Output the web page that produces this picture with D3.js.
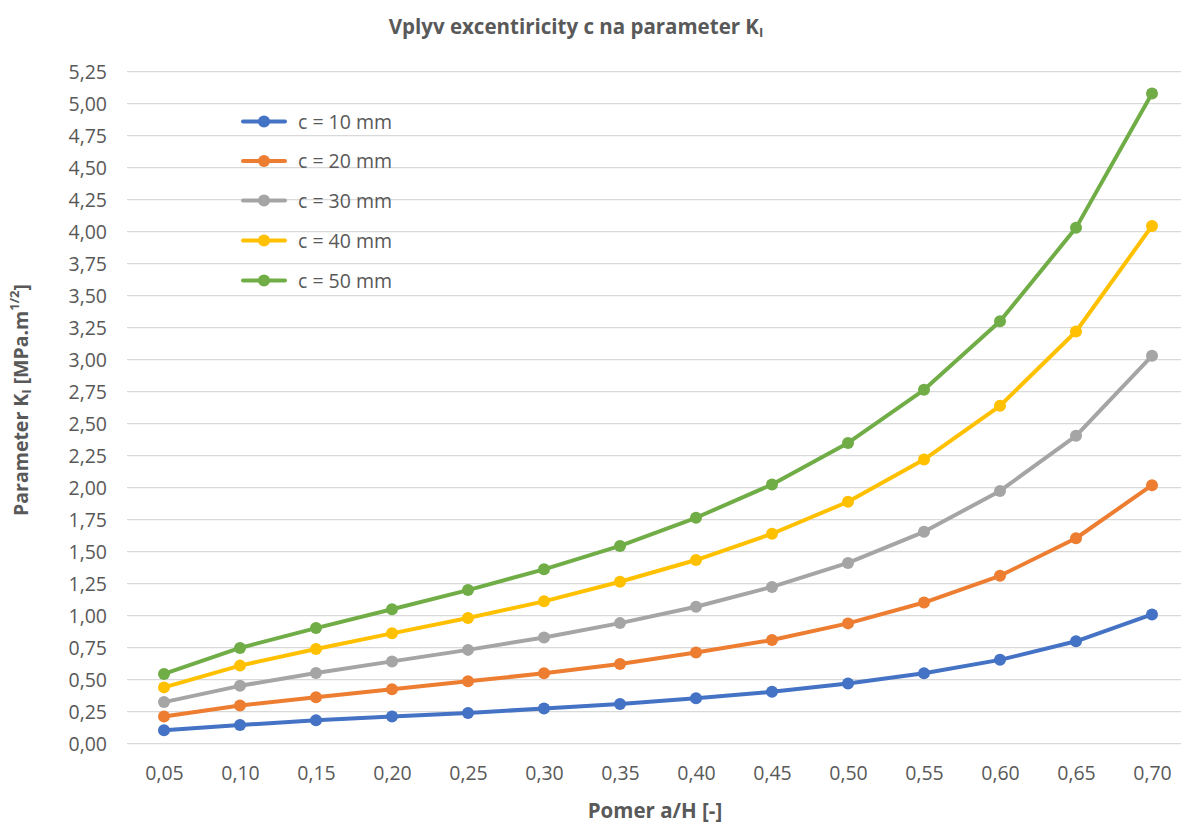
<!DOCTYPE html>
<html>
<head>
<meta charset="utf-8">
<script src="https://cdn.jsdelivr.net/npm/d3@7"></script>
<style>
  html, body { margin: 0; padding: 0; background: #fff; }
  svg { display: block; }
  text { font-family: "Open Sans", "Noto Sans", sans-serif; }
</style>
</head>
<body>
<svg id="chart" width="1181" height="825"></svg>
<script>
const categories = ["0,05","0,10","0,15","0,20","0,25","0,30","0,35","0,40","0,45","0,50","0,55","0,60","0,65","0,70"];
const seriesNames = ["c = 10 mm","c = 20 mm","c = 30 mm","c = 40 mm","c = 50 mm"];
const seriesColors = ["#4472C4","#ED7D31","#A5A5A5","#FFC000","#70AD47"];
const c10 = [0.105,0.146,0.183,0.213,0.240,0.275,0.310,0.355,0.405,0.470,0.550,0.655,0.800,1.010];
const c20 = [0.212,0.298,0.363,0.425,0.487,0.550,0.622,0.712,0.810,0.940,1.103,1.312,1.605,2.020];
const c30 = [0.325,0.452,0.552,0.643,0.733,0.830,0.942,1.070,1.225,1.412,1.655,1.975,2.405,3.030];
const c40 = [0.440,0.610,0.740,0.862,0.982,1.112,1.265,1.435,1.640,1.890,2.220,2.640,3.220,4.045];
const c50 = [0.545,0.748,0.903,1.050,1.200,1.362,1.545,1.765,2.025,2.350,2.765,3.300,4.030,5.080];
const seriesValues = [c10, c20, c30, c40, c50];
const yTicks = [0,0.25,0.5,0.75,1,1.25,1.5,1.75,2,2.25,2.5,2.75,3,3.25,3.5,3.75,4,4.25,4.5,4.75,5,5.25];

const svg = d3.select("#chart");
const textColor = "#595959";

const x = d3.scalePoint().domain(categories).range([126, 1190]).padding(0.5);
const y = d3.scaleLinear().domain([0, 5.25]).range([743.7, 71.7]);
const fmt = v => v.toFixed(2).replace(".", ",");

// gridlines
svg.append("g").selectAll("line").data(yTicks).join("line")
  .attr("x1", 127).attr("x2", 1190)
  .attr("y1", d => y(d)).attr("y2", d => y(d))
  .attr("stroke", "#d9d9d9").attr("stroke-width", 1.3);

// y axis labels
const yAxis = d3.axisLeft(y).tickValues(yTicks).tickFormat(fmt).tickSize(0).tickPadding(0);
const yg = svg.append("g").attr("transform", "translate(107,0)").call(yAxis);
yg.select(".domain").remove();
yg.selectAll("text").attr("fill", textColor).style("font-size", "19.5px").attr("dy", "0.36em");

// x axis labels
const xAxis = d3.axisBottom(x).tickSize(0).tickPadding(0);
const xg = svg.append("g").attr("transform", "translate(0,773)").call(xAxis);
xg.select(".domain").remove();
xg.selectAll("text").attr("fill", textColor).style("font-size", "19.5px").attr("y", 0).attr("dy", "0.36em");

// series
const line = d3.line().x((d, i) => x(categories[i])).y(d => y(d));
seriesValues.forEach((vals, si) => {
  const g = svg.append("g");
  g.append("path").datum(vals).attr("d", line)
    .attr("fill", "none").attr("stroke", seriesColors[si])
    .attr("stroke-width", 4).attr("stroke-linejoin", "round").attr("stroke-linecap", "round");
  g.selectAll("circle").data(vals).join("circle")
    .attr("cx", (d, i) => x(categories[i])).attr("cy", d => y(d))
    .attr("r", 6).attr("fill", seriesColors[si]);
});

// legend
const legendY = [121.5, 161, 200.5, 240.5, 280.5];
seriesNames.forEach((name, i) => {
  const g = svg.append("g").attr("transform", `translate(0,${legendY[i]})`);
  g.append("line").attr("x1", 243).attr("x2", 285).attr("y1", 0).attr("y2", 0)
    .attr("stroke", seriesColors[i]).attr("stroke-width", 4).attr("stroke-linecap", "round");
  g.append("circle").attr("cx", 264).attr("cy", 0).attr("r", 6).attr("fill", seriesColors[i]);
  g.append("text").attr("x", 298).attr("y", 0).attr("dy", "0.36em")
    .attr("fill", textColor).style("font-size", "19.5px").text(name);
});

// title
const title = svg.append("text").attr("x", 576).attr("y", 34)
  .attr("text-anchor", "middle").attr("fill", textColor)
  .style("font-size", "20.5px").style("font-weight", "bold");
title.append("tspan").text("Vplyv excentiricity c na parameter K");
title.append("tspan").attr("baseline-shift", "-25%").style("font-size", "13px").text("I");

// x axis title
svg.append("text").attr("x", 655).attr("y", 818)
  .attr("text-anchor", "middle").attr("fill", textColor)
  .style("font-size", "20.5px").style("font-weight", "bold").text("Pomer a/H [-]");

// y axis title
const yt = svg.append("text").attr("transform", "translate(28,400) rotate(-90)")
  .attr("text-anchor", "middle").attr("fill", textColor)
  .style("font-size", "19.5px").style("font-weight", "bold");
yt.append("tspan").text("Parameter K");
yt.append("tspan").attr("baseline-shift", "-25%").style("font-size", "13px").text("I");
yt.append("tspan").text(" [MPa.m");
yt.append("tspan").attr("baseline-shift", "super").style("font-size", "13px").text("1/2");
yt.append("tspan").text("]");
</script>
</body>
</html>
